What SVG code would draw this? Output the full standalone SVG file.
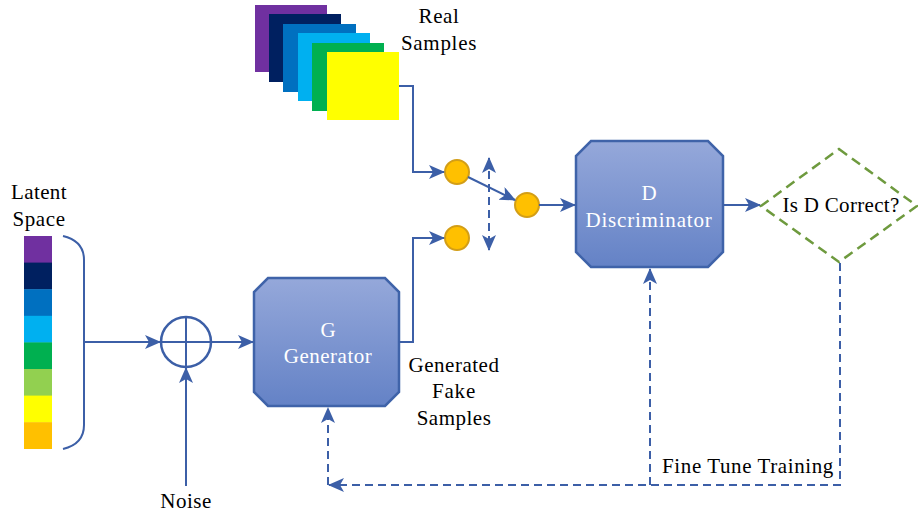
<svg xmlns="http://www.w3.org/2000/svg" width="918" height="516" viewBox="0 0 918 516">
<defs>
<linearGradient id="boxg" x1="0" y1="0" x2="0" y2="1">
<stop offset="0" stop-color="#95A8DA"/>
<stop offset="1" stop-color="#6482C6"/>
</linearGradient>
<marker id="arr" markerUnits="userSpaceOnUse" markerWidth="16" markerHeight="14" viewBox="0 0 16 14" refX="15" refY="7" orient="auto">
<path d="M0,0 L16,7 L0,14 L4,7 Z" fill="#3C5FA7"/>
</marker>
<marker id="arrs" markerUnits="userSpaceOnUse" markerWidth="16" markerHeight="14" viewBox="0 0 16 14" refX="1" refY="7" orient="auto">
<path d="M16,0 L0,7 L16,14 L12,7 Z" fill="#3C5FA7"/>
</marker>
</defs>
<style>
text{font-family:"Liberation Serif","Times New Roman",Tinos,"Noto Serif","DejaVu Serif",FreeSerif,serif;font-size:21px;fill:#000;text-anchor:middle}
.wt{fill:#fff}
.box{fill:url(#boxg);stroke:#3F63A9;stroke-width:2.5}
.ln{fill:none;stroke:#3C5FA7;stroke-width:2}
.dash{fill:none;stroke:#3C5FA7;stroke-width:2;stroke-dasharray:8 5}
.dot{fill:#FFC000;stroke:#D39E16;stroke-width:2}
</style>
<rect width="918" height="516" fill="#fff"/>

<g id="real-samples">
<rect x="255" y="5" width="72" height="67" fill="#7030A0"/>
<rect x="269" y="14" width="72" height="68" fill="#002060"/>
<rect x="283" y="24" width="73" height="68" fill="#0070C0"/>
<rect x="298" y="33" width="72" height="68" fill="#00B0F0"/>
<rect x="312" y="43" width="72" height="68" fill="#00B050"/>
<rect x="327" y="52" width="72" height="68" fill="#FFFF00"/>
<text x="439" y="23" letter-spacing="0.6">Real</text>
<text x="439" y="50" letter-spacing="0.7">Samples</text>
</g>

<g id="latent-space">
<rect x="24" y="236" width="28" height="27" fill="#7030A0"/>
<rect x="24" y="262.6" width="28" height="27" fill="#002060"/>
<rect x="24" y="289.2" width="28" height="27" fill="#0070C0"/>
<rect x="24" y="315.8" width="28" height="27" fill="#00B0F0"/>
<rect x="24" y="342.4" width="28" height="27" fill="#00B050"/>
<rect x="24" y="369" width="28" height="27" fill="#92D050"/>
<rect x="24" y="395.6" width="28" height="27" fill="#FFFF00"/>
<rect x="24" y="422.2" width="28" height="26.8" fill="#FFC000"/>
<text x="39" y="199" letter-spacing="0.4">Latent</text>
<text x="39" y="226" letter-spacing="0.6">Space</text>
<path class="ln" d="M63,236 Q84,241 84,260 L84,425 Q84,444 63,449" stroke-width="2.5"/>
</g>

<g id="sum">
<circle cx="186" cy="342" r="25" fill="#fff" stroke="#3C5FA7" stroke-width="2.5"/>
<path class="ln" d="M161,342 H211 M186,317 V367" stroke-width="2.5"/>
</g>

<g id="noise">
<text x="186" y="508" letter-spacing="0.5">Noise</text>
</g>

<g id="generator">
<path class="box" d="M268,278 L385,278 L399,292 L399,392 L385,406 L268,406 L254,392 L254,292 Z"/>
<text class="wt" x="328" y="337">G</text>
<text class="wt" x="328" y="363" letter-spacing="0.5">Generator</text>
</g>

<g id="fake-label">
<text x="454" y="372" letter-spacing="0.5">Generated</text>
<text x="454" y="398" letter-spacing="0.8">Fake</text>
<text x="454" y="425" letter-spacing="0.5">Samples</text>
</g>

<g id="switch-real"><circle class="dot" cx="457" cy="172" r="12"/></g>
<g id="switch-out"><circle class="dot" cx="527" cy="205" r="12"/></g>
<g id="switch-fake"><circle class="dot" cx="457" cy="238" r="12"/></g>

<g id="discriminator">
<path class="box" d="M591,141 L708,141 L723,156 L723,252 L708,267 L591,267 L576,252 L576,156 Z"/>
<text class="wt" x="649" y="200">D</text>
<text class="wt" x="649" y="227" letter-spacing="0.8">Discriminator</text>
</g>

<g id="decision">
<path d="M839,149 L917,206 L839,262 L761,206 Z" fill="#fff" stroke="#6E9A3E" stroke-width="2.5" stroke-dasharray="10 6"/>
<text x="841" y="212" letter-spacing="0.3">Is D Correct?</text>
</g>

<g id="connectors">
<path class="ln" d="M84,342 H160" marker-end="url(#arr)"/>
<path class="ln" d="M211,342 H253" marker-end="url(#arr)"/>
<path class="ln" d="M186,486 V368" marker-end="url(#arr)"/>
<path class="ln" d="M399,86 H413 V172 H444" marker-end="url(#arr)"/>
<path class="ln" d="M399,342 H413 V238 H444" marker-end="url(#arr)"/>
<path class="ln" d="M468,177 L515,200" marker-end="url(#arr)"/>
<path class="ln" d="M539,205 H575" marker-end="url(#arr)"/>
<path class="dash" d="M489,158 V250" marker-start="url(#arrs)" marker-end="url(#arr)" stroke-dasharray="5 4"/>
<path class="ln" d="M723,205 H760" marker-end="url(#arr)"/>
<path class="dash" d="M840,263 V485 H329" marker-end="url(#arr)"/>
<path class="dash" d="M328,485 V408" marker-end="url(#arr)"/>
<path class="dash" d="M650,485 V269" marker-end="url(#arr)"/>
<text x="748" y="473" letter-spacing="0.6">Fine Tune Training</text>
</g>
</svg>
